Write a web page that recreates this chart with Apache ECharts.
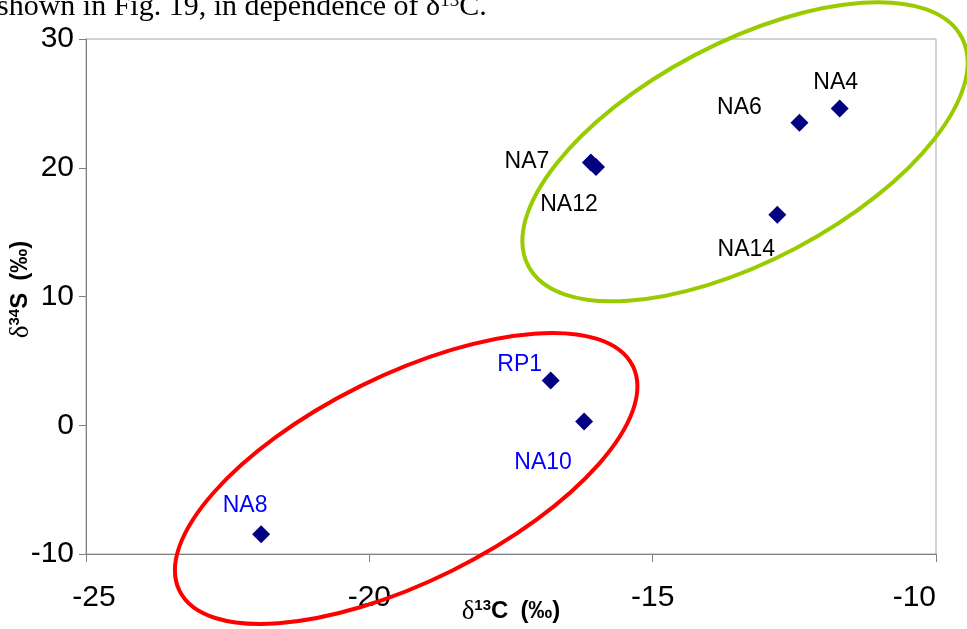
<!DOCTYPE html>
<html>
<head>
<meta charset="utf-8">
<script src="https://cdn.jsdelivr.net/npm/echarts@6/dist/echarts.min.js"></script>
<style>
  html, body { margin: 0; padding: 0; background: #fff; }
  #chart { width: 967px; height: 629px; }
</style>
</head>
<body>
<div id="chart"></div>
<script>
// Sample isotope ratios: δ13C (x) against δ34S (y), both in ‰
const sampleNames = ['NA4', 'NA6', 'NA7', 'NA12', 'NA14', 'RP1', 'NA10', 'NA8'];
const d13C = [-11.70, -12.41, -16.09, -16.00, -12.80, -16.80, -16.21, -21.91];
const d34S = [24.6, 23.5, 20.4, 20.05, 16.35, 3.47, 0.29, -8.46];

// Axis ranges and ticks
const xTicks = [-25, -20, -15, -10];
const yTicks = [-10, 0, 10, 20, 30];

// Samples of the lower group are labelled in blue
const blueLabelled = ['RP1', 'NA10', 'NA8'];

// Label offsets (px) from each marker centre
const labelOffsets = {
  NA4: [-4, -26], NA6: [-60, -15], NA7: [-64, -1], NA12: [-27, 38],
  NA14: [-31, 35], RP1: [-31, -16], NA10: [-41, 41], NA8: [-16, -29]
};

// Group outlines: centre in data units, radii in px, tilt in degrees
const outlines = [
  { color: '#99cc00', center: [-13.37, 21.24], rx: 245, ry: 109, tilt: 27.8 },
  { color: '#ff0000', center: [-19.35, -4.13], rx: 253, ry: 103, tilt: 26.4 }
];

const chart = echarts.init(document.getElementById('chart'), null, { renderer: 'canvas' });

const SYMBOL = 18;
const points = sampleNames.map((n, i) => ({
  name: n,
  value: [d13C[i], d34S[i]],
  label: {
    position: [SYMBOL / 2 + labelOffsets[n][0], SYMBOL / 2 + labelOffsets[n][1]],
    color: blueLabelled.includes(n) ? '#0000ff' : '#000000'
  }
}));

const FONT = 'Liberation Sans, Arial, sans-serif';
const axisFont = { fontFamily: FONT, fontSize: 30, color: '#000' };

// Axis title pieces: δ, superscript mass number, element, unit
function titleRich(leadPad) {
  return {
    d: { fontFamily: 'Liberation Serif, serif', fontSize: 27, color: '#000', padding: [0, 0, 0, leadPad] },
    s: { fontFamily: FONT, fontSize: 15, fontWeight: 'bold', color: '#000', verticalAlign: 'top' },
    b: { fontFamily: FONT, fontSize: 24, fontWeight: 'bold', color: '#000' },
    p: { fontFamily: FONT, fontSize: 24, fontWeight: 'bold', color: '#000', padding: [0, 0, 0, 12] }
  };
}

chart.setOption({
  animation: false,
  backgroundColor: '#ffffff',
  grid: {
    left: 86, right: 31, top: 39, bottom: 75,
    outerBoundsMode: 'none',
    containLabel: false,
    show: true, borderColor: '#a6a6a6', borderWidth: 1, backgroundColor: 'transparent'
  },
  xAxis: {
    type: 'value',
    min: xTicks[0], max: xTicks[xTicks.length - 1], interval: 5,
    name: '{d|δ}{s|13}{b|C}{p|(‰)}',
    nameLocation: 'middle', nameGap: 44, nameMoveOverlap: false,
    nameTextStyle: { fontSize: 24, rich: titleRich(0) },
    axisLine: { show: true, onZero: false, lineStyle: { color: '#808080', width: 1 } },
    axisTick: { show: true, length: 8, lineStyle: { color: '#808080' } },
    axisLabel: Object.assign({
      margin: 29,
      alignMaxLabel: 'right',
      // the first label sits a little to the right of its tick
      formatter: v => v === xTicks[0] ? '{lo|' + v + '}' : String(v),
      rich: { lo: Object.assign({ padding: [0, 0, 0, 16] }, axisFont) }
    }, axisFont),
    splitLine: { show: false }
  },
  yAxis: {
    type: 'value',
    min: yTicks[0], max: yTicks[yTicks.length - 1], interval: 10,
    name: '{d|δ}{s|34}{b|S}{p|(‰)}',
    nameLocation: 'middle', nameGap: 52, nameRotate: 90, nameMoveOverlap: false,
    nameTextStyle: { fontSize: 24, rich: titleRich(14) },
    axisLine: { show: true, onZero: false, lineStyle: { color: '#808080', width: 1 } },
    axisTick: { show: true, length: 7, lineStyle: { color: '#808080' } },
    axisLabel: Object.assign({ margin: 12 }, axisFont),
    splitLine: { show: false }
  },
  series: [{
    type: 'scatter',
    symbol: 'diamond',
    symbolSize: SYMBOL,
    itemStyle: { color: '#000080', opacity: 1 },
    label: {
      show: true,
      formatter: '{b}',
      fontFamily: FONT,
      fontSize: 23,
      opacity: 1,
      align: 'center',
      verticalAlign: 'middle'
    },
    data: points,
    z: 3
  }]
});

// Page caption line above the figure and the group outlines
const graphics = [{
  type: 'text',
  left: -3, top: -8,
  style: {
    text: '{t|shown in Fig. 19, in dependence of δ}{u|13}{t|C.}',
    rich: {
      t: { fontFamily: 'Liberation Serif, serif', fontSize: 30, color: '#000' },
      u: { fontFamily: 'Liberation Serif, serif', fontSize: 19, color: '#000', verticalAlign: 'top' }
    }
  },
  z: 50
}];

outlines.forEach(o => {
  const c = chart.convertToPixel({ gridIndex: 0 }, o.center);
  graphics.push({
    type: 'ellipse',
    x: c[0], y: c[1],
    rotation: o.tilt * Math.PI / 180,
    shape: { cx: 0, cy: 0, rx: o.rx, ry: o.ry },
    style: { fill: 'none', stroke: o.color, lineWidth: 4 },
    z: 100
  });
});

chart.setOption({ graphic: graphics });
</script>
</body>
</html>
